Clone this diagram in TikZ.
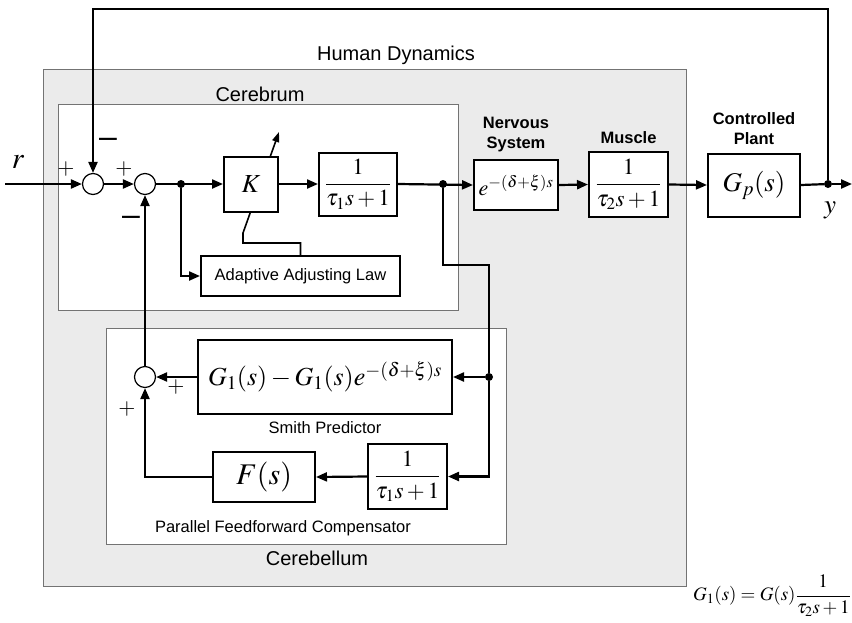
\documentclass[tikz,border=0pt]{standalone}
\usepackage{amsmath}
\usepackage{mathptmx}
\usepackage[no-math]{fontspec}
\setmainfont{Liberation Sans}
\usetikzlibrary{arrows.meta, positioning}
\tikzset{
  blockbox/.style={rectangle, draw, line width=2pt, fill=white, inner sep=0pt,
    font=\fontsize{23}{27}\selectfont},
  sumnode/.style={circle, draw, line width=1.2pt, fill=white, minimum size=21pt, inner sep=0pt},
  dotnode/.style={circle, fill, minimum size=8pt, inner sep=0pt},
  wire/.style={line width=2.2pt},
  arrow/.style={-{Triangle[length=11pt, width=9pt]}, line width=2.2pt},
  adjustarrow/.style={-{Triangle[length=10pt, width=7pt]}, line width=1.6pt},
  regionbox/.style={draw=black!55, line width=0.9pt},
  bigtext/.style={font=\fontsize{20}{24}\selectfont},
  smalltext/.style={font=\fontsize{16.5}{20}\selectfont},
  boldlabel/.style={font=\fontsize{16.5}{20}\selectfont\bfseries, align=center},
  plustext/.style={font=\fontsize{22}{26}\selectfont, inner sep=0pt},
  minustext/.style={font=\fontsize{32}{34}\selectfont, inner sep=0pt}
}

\begin{document}
\begin{tikzpicture}[x=1pt, y=-1pt]
  \useasboundingbox (0,0) rectangle (852,622);

  % regions
  \draw[regionbox, fill=black!8] (43,69) rectangle (686,586);
  \draw[regionbox, fill=white] (58,104) rectangle (458,310);
  \draw[regionbox, fill=white] (106,328) rectangle (506,544);
  \node[bigtext] (human) at (396,55) {Human Dynamics};
  \node[bigtext] (cerebrum) at (260,94) {Cerebrum};
  \node[bigtext] (cerebellum) at (317,558) {Cerebellum};
  \node[smalltext] (smithlabel) at (325,428) {Smith Predictor};
  \node[smalltext] (pfclabel) at (283,528) {Parallel Feedforward Compensator};

  % adaptive law and gain adjustment (under the K block)
  \node[blockbox, smalltext, minimum width=199pt, minimum height=40pt] (adapt) at (300.5,276) {Adaptive Adjusting Law};
  \coordinate (kfoot) at (243,243);
  \coordinate (kbend) at (243,233);
  \coordinate (ktip) at (279,132);
  \draw[adjustarrow] (adapt.north) |- (kfoot) -- (kbend) -- (ktip);

  % forward path
  \node[sumnode] (s1) at (93,184) {};
  \node[sumnode] (s2) at (145,184) {};
  \node[dotnode] (d1) at (181,184) {};
  \node[blockbox, minimum width=54pt, minimum height=55pt, font=\fontsize{26}{28}\selectfont] (gain) at (251,184) {$K$};
  \node[blockbox, minimum width=78pt, minimum height=63pt] (lag1) at (358,184) {$\dfrac{1}{\tau_1 s+1}$};
  \node[dotnode] (d2) at (443,184) {};
  \node[blockbox, minimum width=84pt, minimum height=50pt, font=\fontsize{22}{26}\selectfont] (nerve) at (516,185) {$e^{-(\delta+\xi)s}$};
  \node[blockbox, minimum width=79pt, minimum height=65pt] (muscle) at (628.5,184.5) {$\dfrac{1}{\tau_2 s+1}$};
  \node[blockbox, minimum width=92pt, minimum height=63pt, font=\fontsize{27}{30}\selectfont] (plant) at (754,185) {$G_p(s)$};
  \node[dotnode] (dy) at (828,184) {};

  \node[boldlabel, above=4pt of nerve] (nervelabel) {Nervous\\System};
  \node[boldlabel, above=4pt of muscle] (musclelabel) {Muscle};
  \node[boldlabel, above=4pt of plant] (plantlabel) {Controlled\\Plant};

  % cerebellum path
  \node[sumnode] (s3) at (145,377) {};
  \node[blockbox, minimum width=254pt, minimum height=74pt, font=\fontsize{26}{30}\selectfont] (smith) at (325,377) {$G_1(s)-G_1(s)e^{-(\delta+\xi)s}$};
  \node[dotnode] (d3) at (489,377) {};
  \node[blockbox, minimum width=79pt, minimum height=65pt] (lag1b) at (407.5,476.5) {$\dfrac{1}{\tau_1 s+1}$};
  \node[blockbox, minimum width=102pt, minimum height=50pt, font=\fontsize{30}{34}\selectfont] (ffc) at (264,477) {$F(s)$};

  % signals and signs
  \node[font=\fontsize{30}{32}\selectfont] (rlabel) at (18,162) {$r$};
  \node[font=\fontsize{27}{30}\selectfont] (ylabel) at (830,210) {$y$};
  \node[plustext] (p1) at (66,169) {$+$};
  \node[minustext] (m1) at (108,143) {--};
  \node[plustext] (p2) at (124,169) {$+$};
  \node[minustext] (m2) at (131,221) {--};
  \node[plustext] (p3) at (176,387) {$+$};
  \node[plustext] (p4) at (127,409) {$+$};
  \node[font=\fontsize{19}{23}\selectfont, anchor=east, inner sep=0pt] (relation) at (851,596) {$G_1(s)=G(s)\dfrac{1}{\tau_2 s+1}$};

  % connectors
  \coordinate (rin) at (5,184);
  \coordinate (yout) at (852,184);
  \coordinate (ytop) at (828,9);
  \coordinate (tapright) at (489,265);
  \draw[arrow] (rin) -- (s1.west);
  \draw[arrow] (dy) -- (ytop) -| (s1.north);
  \draw[arrow] (s1.east) -- (s2.west);
  \draw[arrow] (s2.east) -- (gain.west);
  \draw[arrow] (d1) |- (adapt.west);
  \draw[arrow] (gain.east) -- (lag1.west);
  \draw[arrow] (lag1.east) -- (nerve.west);
  \draw[arrow] (nerve.east) -- (muscle.west);
  \draw[arrow] (muscle.east) -- (plant.west);
  \draw[wire] (plant.east) -- (dy);
  \draw[arrow] (dy) -- (yout);
  \draw[wire] (d2) |- (tapright) -- (d3);
  \draw[arrow] (d3) -- (smith.east);
  \draw[arrow] (d3) |- (lag1b.east);
  \draw[arrow] (lag1b.west) -- (ffc.east);
  \draw[arrow] (ffc.west) -| (s3.south);
  \draw[arrow] (smith.west) -- (s3.east);
  \draw[arrow] (s3.north) -- (s2.south);
\end{tikzpicture}
\end{document}
